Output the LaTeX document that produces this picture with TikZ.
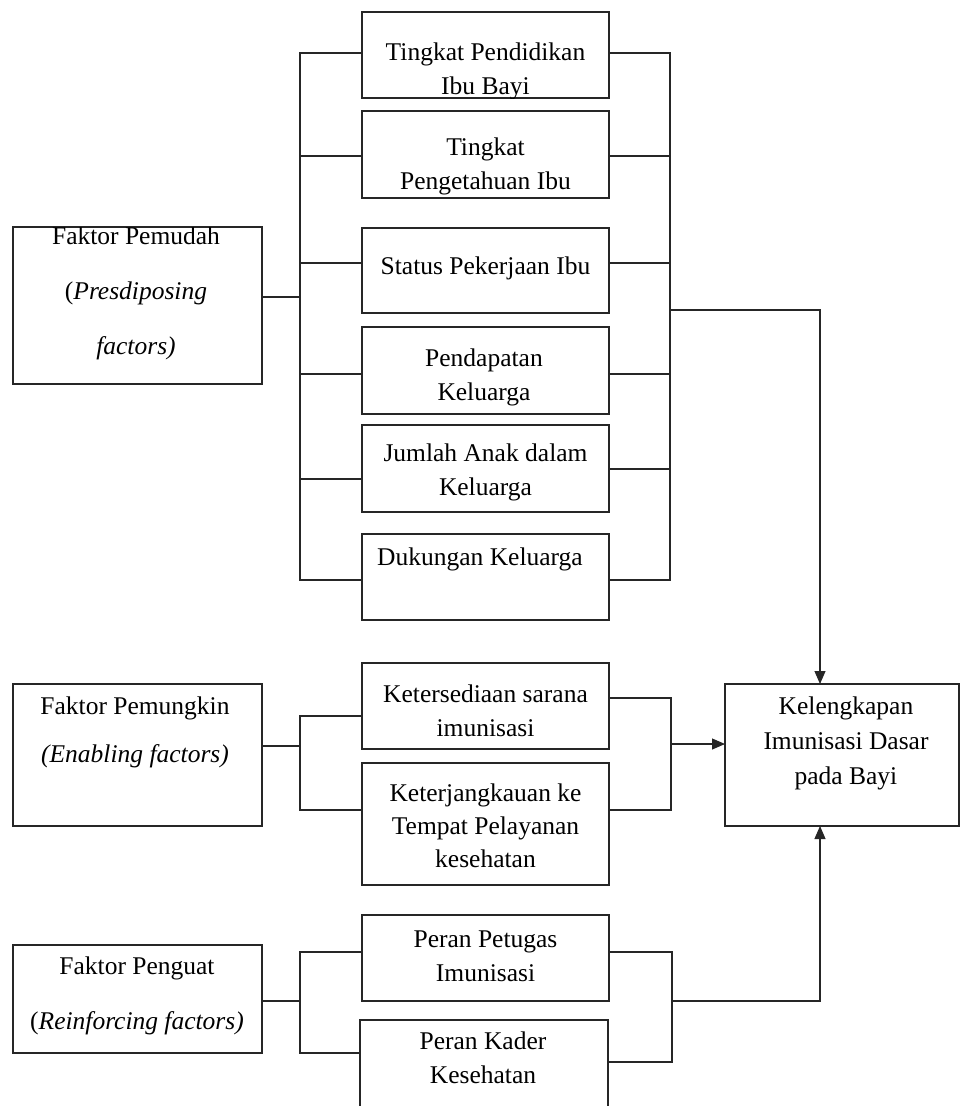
\documentclass[tikz,border=0pt]{standalone}
\usepackage{fontspec}
\setmainfont{Liberation Serif}
\usetikzlibrary{arrows.meta}
\begin{document}
\begin{tikzpicture}[x=1pt,y=-1pt,
  boxn/.style={draw=black!85, line width=1.1pt, inner sep=0pt, outer sep=0pt, anchor=north west},
  txt/.style={align=center, inner sep=0pt, text=black, font=\fontsize{25.5pt}{34pt}\selectfont},
  conn/.style={draw=black!85, line width=1.1pt, line cap=rect},
  arr/.style={draw=black!85, line width=1.1pt, -{Triangle[length=13pt,width=11pt]}}]
\useasboundingbox (0,0) rectangle (962,1106);
\clip (0,0) rectangle (962,1106);

% ---------- boxes ----------
\node[boxn, minimum width=247pt, minimum height=86pt]  (b1) at (362,12) {};
\node[boxn, minimum width=247pt, minimum height=87pt]  (b2) at (362,111) {};
\node[boxn, minimum width=247pt, minimum height=85pt]  (b3) at (362,228) {};
\node[boxn, minimum width=247pt, minimum height=87pt]  (b4) at (362,327) {};
\node[boxn, minimum width=247pt, minimum height=87pt]  (b5) at (362,425) {};
\node[boxn, minimum width=247pt, minimum height=86pt]  (b6) at (362,534) {};
\node[boxn, minimum width=249pt, minimum height=157pt] (fp) at (13,227) {};
\node[boxn, minimum width=249pt, minimum height=142pt] (fm) at (13,684) {};
\node[boxn, minimum width=249pt, minimum height=108pt] (fg) at (13,945) {};
\node[boxn, minimum width=247pt, minimum height=86pt]  (k1) at (362,663) {};
\node[boxn, minimum width=247pt, minimum height=122pt] (k2) at (362,763) {};
\node[boxn, minimum width=247pt, minimum height=86pt]  (r1) at (362,915) {};
\node[boxn, minimum width=248pt, minimum height=100pt] (r2) at (360,1020) {};
\node[boxn, minimum width=234pt, minimum height=142pt] (out) at (725,684) {};

% ---------- texts (clipped to their boxes) ----------
\begin{scope}\clip (b1.north west) rectangle (b1.south east);
\node[txt] (t1) at (485.5,71) {Tingkat Pendidikan\\Ibu Bayi};\end{scope}
\begin{scope}\clip (b2.north west) rectangle (b2.south east);
\node[txt] (t2) at (485.5,166) {Tingkat\\Pengetahuan Ibu};\end{scope}
\begin{scope}\clip (b3.north west) rectangle (b3.south east);
\node[txt] (t3) at (485.5,268) {Status Pekerjaan Ibu};\end{scope}
\begin{scope}\clip (b4.north west) rectangle (b4.south east);
\node[txt] (t4) at (484,377) {Pendapatan\\Keluarga};\end{scope}
\begin{scope}\clip (b5.north west) rectangle (b5.south east);
\node[txt] (t5) at (485.5,472) {Jumlah Anak dalam\\Keluarga};\end{scope}
\begin{scope}\clip (b6.north west) rectangle (b6.south east);
\node[txt] (t6) at (480,559) {Dukungan Keluarga};\end{scope}
\begin{scope}\clip (fp.north west) rectangle (fp.south east);
\node[txt, font=\fontsize{25.5pt}{55pt}\selectfont] (tfp) at (136,293)
  {Faktor Pemudah\\(\textit{Presdiposing}\\\textit{factors)}};\end{scope}
\begin{scope}\clip (fm.north west) rectangle (fm.south east);
\node[txt, font=\fontsize{25.5pt}{48pt}\selectfont] (tfm) at (135,732)
  {Faktor Pemungkin\\\textit{(Enabling factors)}};\end{scope}
\begin{scope}\clip (fg.north west) rectangle (fg.south east);
\node[txt, font=\fontsize{25.5pt}{55pt}\selectfont] (tfg) at (137,996)
  {Faktor Penguat\\(\textit{Reinforcing factors)}};\end{scope}
\begin{scope}\clip (k1.north west) rectangle (k1.south east);
\node[txt] (tk1) at (485.5,711) {Ketersediaan sarana\\imunisasi};\end{scope}
\begin{scope}\clip (k2.north west) rectangle (k2.south east);
\node[txt, font=\fontsize{25.5pt}{33pt}\selectfont] (tk2) at (485.5,826)
  {Keterjangkauan ke\\Tempat Pelayanan\\kesehatan};\end{scope}
\begin{scope}\clip (r1.north west) rectangle (r1.south east);
\node[txt] (tr1) at (485.5,956) {Peran Petugas\\Imunisasi};\end{scope}
\begin{scope}\clip (r2.north west) rectangle (r2.south east);
\node[txt] (tr2) at (483,1058) {Peran Kader\\Kesehatan};\end{scope}
\begin{scope}\clip (out.north west) rectangle (out.south east);
\node[txt, font=\fontsize{25.5pt}{35pt}\selectfont] (tout) at (846,743)
  {Kelengkapan\\Imunisasi Dasar\\pada Bayi};\end{scope}

% ---------- junction points ----------
\coordinate (ul0) at (300,297);
\coordinate (ul1) at (300,53);  \coordinate (ul2) at (300,156);
\coordinate (ul3) at (300,263); \coordinate (ul4) at (300,374);
\coordinate (ul5) at (300,479); \coordinate (ul6) at (300,580);
\coordinate (ur1) at (670,53);  \coordinate (ur2) at (670,156);
\coordinate (ur3) at (670,263); \coordinate (ur4) at (670,374);
\coordinate (ur5) at (670,469); \coordinate (ur6) at (670,580);
\coordinate (ur0) at (670,310); \coordinate (c1) at (820,310);

\coordinate (ml0) at (300,746); \coordinate (ml1) at (300,716); \coordinate (ml2) at (300,810);
\coordinate (mr0) at (671,744); \coordinate (mr1) at (671,698); \coordinate (mr2) at (671,810);

\coordinate (bl0) at (300,1001); \coordinate (bl1) at (300,952); \coordinate (bl2) at (300,1053);
\coordinate (br0) at (672,1001); \coordinate (br1) at (672,952); \coordinate (br2) at (672,1062);
\coordinate (c2) at (820,1001);

% ---------- upper group ----------
\draw[conn] (fp.east |- ul0) -- (ul0);
\draw[conn] (ul1) -- (ul6);
\draw[conn] (ur1) -- (ur6);
\foreach \i in {1,...,6}{
  \draw[conn] (ul\i) -- (b\i.west |- ul\i);
  \draw[conn] (b\i.east |- ur\i) -- (ur\i);
}
\draw[arr] (ur0) -- (c1) -- (out.north -| c1);

% ---------- middle group ----------
\draw[conn] (fm.east |- ml0) -- (ml0);
\draw[conn] (ml1) -- (ml2);
\draw[conn] (ml1) -- (k1.west |- ml1);
\draw[conn] (ml2) -- (k2.west |- ml2);
\draw[conn] (k1.east |- mr1) -- (mr1) -- (mr2) -- (k2.east |- mr2);
\draw[arr] (mr0) -- (out.west |- mr0);

% ---------- lower group ----------
\draw[conn] (fg.east |- bl0) -- (bl0);
\draw[conn] (bl1) -- (bl2);
\draw[conn] (bl1) -- (r1.west |- bl1);
\draw[conn] (bl2) -- (r2.west |- bl2);
\draw[conn] (r1.east |- br1) -- (br1) -- (br2) -- (r2.east |- br2);
\draw[arr] (br0) -- (c2) -- (out.south -| c2);
\end{tikzpicture}
\end{document}
